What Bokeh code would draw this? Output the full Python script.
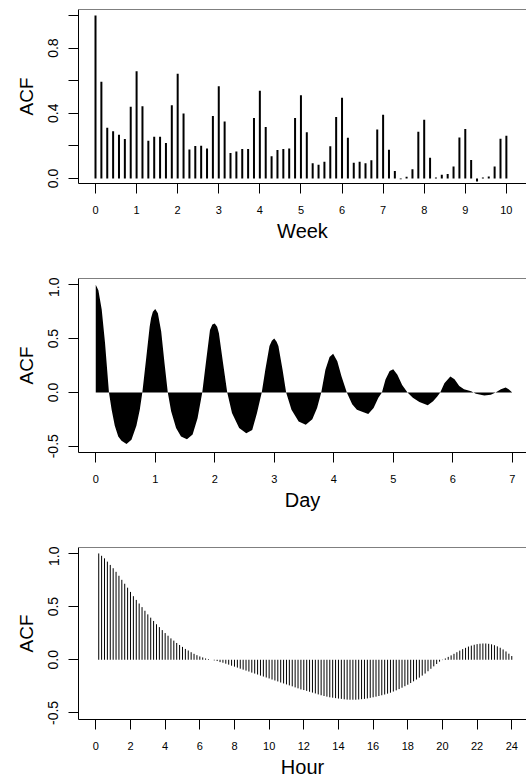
from bokeh.plotting import figure
from bokeh.layouts import column
from bokeh.models import Range1d, FixedTicker, Span
from bokeh.embed import file_html
from bokeh.resources import INLINE

FONT = "Liberation Sans"

# daily lags 0..70, shown in weeks
lag_days = list(range(71))
acf_week = [1.0, 0.594, 0.311, 0.289, 0.268, 0.242, 0.44,
            0.658, 0.443, 0.232, 0.256, 0.256, 0.217, 0.449,
            0.643, 0.398, 0.178, 0.199, 0.2, 0.184, 0.383,
            0.566, 0.35, 0.156, 0.166, 0.18, 0.18, 0.371,
            0.539, 0.316, 0.137, 0.174, 0.18, 0.184, 0.371,
            0.51, 0.283, 0.094, 0.084, 0.102, 0.197, 0.377,
            0.496, 0.25, 0.096, 0.102, 0.094, 0.111, 0.301,
            0.391, 0.176, 0.045, -0.005, 0.01, 0.057, 0.287,
            0.36, 0.127, 0.006, 0.022, 0.027, 0.074, 0.252,
            0.303, 0.113, -0.018, 0.006, 0.012, 0.074, 0.244,
            0.262]

# dense acf over a week (day, value)
day = [0.0, 0.044, 0.1, 0.156, 0.222, 0.267, 0.32, 0.378, 0.433, 0.517,
       0.6, 0.683, 0.74, 0.783, 0.85, 0.906, 0.93, 0.96, 1.0, 1.044,
       1.1, 1.156, 1.211, 1.267, 1.35, 1.433, 1.533, 1.628, 1.711, 1.79,
       1.85, 1.92, 1.96, 2.0, 2.04, 2.07, 2.14, 2.21, 2.29, 2.41,
       2.53, 2.63, 2.71, 2.79, 2.85, 2.92, 2.96, 3.0, 3.04, 3.07,
       3.14, 3.2, 3.29, 3.41, 3.53, 3.64, 3.72, 3.79, 3.86, 3.93,
       3.99, 4.06, 4.13, 4.22, 4.31, 4.39, 4.5, 4.58, 4.67, 4.75,
       4.81, 4.87, 4.94, 5.0, 5.07, 5.15, 5.24, 5.33, 5.44, 5.58,
       5.67, 5.74, 5.79, 5.86, 5.96, 6.03, 6.11, 6.19, 6.31, 6.39,
       6.53, 6.64, 6.72, 6.81, 6.89, 6.94, 7.0]
acf_day = [1.0, 0.95, 0.77, 0.46, 0.0, -0.16, -0.31, -0.41, -0.45, -0.48,
           -0.44, -0.31, -0.16, 0.0, 0.33, 0.61, 0.69, 0.75, 0.775, 0.735,
           0.565, 0.27, 0.0, -0.176, -0.33, -0.41, -0.435, -0.39, -0.24, 0.0,
           0.27, 0.58, 0.63, 0.64, 0.61, 0.55, 0.27, 0.0, -0.19, -0.33,
           -0.38, -0.35, -0.19, 0.0, 0.21, 0.43, 0.48, 0.5, 0.47, 0.43,
           0.21, 0.0, -0.16, -0.27, -0.3, -0.25, -0.145, 0.0, 0.21, 0.33,
           0.36, 0.29, 0.15, 0.0, -0.11, -0.16, -0.185, -0.2, -0.145, -0.05,
           0.0, 0.12, 0.2, 0.215, 0.165, 0.07, 0.0, -0.05, -0.09, -0.12,
           -0.083, -0.037, 0.0, 0.086, 0.148, 0.123, 0.06, 0.03, 0.01, -0.012,
           -0.028, -0.022, 0.0, 0.03, 0.046, 0.03, 0.0]

# 10-minute lags 1..144, shown in hours
lag_10min = list(range(1, 145))
acf_hour = [1.0, 0.978, 0.954, 0.923, 0.892, 0.861,
            0.827, 0.79, 0.752, 0.715, 0.678, 0.638,
            0.598, 0.563, 0.529, 0.495, 0.461, 0.427,
            0.396, 0.365, 0.334, 0.307, 0.279, 0.251,
            0.226, 0.201, 0.18, 0.158, 0.139, 0.121,
            0.102, 0.087, 0.071, 0.056, 0.043, 0.031,
            0.022, 0.012, 0.006, 0.0, -0.006, -0.012,
            -0.022, -0.028, -0.037, -0.046, -0.056, -0.065,
            -0.074, -0.084, -0.093, -0.102, -0.111, -0.121,
            -0.13, -0.139, -0.149, -0.158, -0.167, -0.176,
            -0.186, -0.195, -0.204, -0.214, -0.223, -0.232,
            -0.241, -0.25, -0.26, -0.269, -0.279, -0.285,
            -0.293, -0.301, -0.309, -0.317, -0.326, -0.334,
            -0.341, -0.347, -0.353, -0.357, -0.361, -0.365,
            -0.368, -0.372, -0.375, -0.376, -0.376, -0.376,
            -0.374, -0.371, -0.368, -0.364, -0.358, -0.353,
            -0.347, -0.341, -0.334, -0.327, -0.319, -0.31,
            -0.299, -0.288, -0.276, -0.263, -0.249, -0.235,
            -0.219, -0.203, -0.186, -0.168, -0.149, -0.13,
            -0.108, -0.085, -0.062, -0.04, -0.018, -0.003,
            0.012, 0.027, 0.041, 0.056, 0.071, 0.086,
            0.1, 0.112, 0.124, 0.133, 0.141, 0.147,
            0.151, 0.153, 0.153, 0.15, 0.145, 0.137,
            0.126, 0.113, 0.097, 0.078, 0.057, 0.035]

week_ticks = list(range(0, 11))
day_ticks = list(range(0, 8))
hour_ticks = list(range(0, 25, 2))
ticks_01 = [0.0, 0.2, 0.4, 0.6, 0.8, 1.0]
labels_01 = {0.0: "0.0", 0.2: "", 0.4: "0.4", 0.6: "", 0.8: "0.8", 1.0: ""}
ticks_half = [-0.5, 0.0, 0.5, 1.0]
labels_half = {-0.5: "-0.5", 0.0: "0.0", 0.5: "0.5", 1.0: "1.0"}


def panel(height, top, bottom, xr, yr, xticks, yticks, ylabels, xlabel):
    p = figure(width=526, height=height, x_range=Range1d(*xr), y_range=Range1d(*yr),
               output_backend="svg", toolbar_location=None,
               min_border_left=78, min_border_right=0, min_border_top=top,
               min_border_bottom=bottom)
    p.outline_line_color = None
    p.grid.visible = False

    xa = p.xaxis[0]
    xa.ticker = FixedTicker(ticks=xticks)
    xa.axis_label = xlabel
    ya = p.yaxis[0]
    ya.ticker = FixedTicker(ticks=yticks)
    ya.major_label_overrides = ylabels
    ya.major_label_orientation = "vertical"
    ya.axis_label = "ACF"
    for ax in (xa, ya):
        ax.axis_line_color = "black"
        ax.major_tick_line_color = "black"
        ax.minor_tick_line_color = None
        ax.major_tick_out = 10
        ax.major_tick_in = 0
        ax.major_label_text_color = "black"
        ax.major_label_text_font = FONT
        ax.axis_label_text_color = "black"
        ax.axis_label_text_font = FONT
        ax.axis_label_text_font_style = "normal"
    xa.major_label_text_font_size = "11px"
    xa.major_label_standoff = 12
    xa.axis_label_text_font_size = "20px"
    xa.axis_label_standoff = 3
    ya.major_label_text_font_size = "14px"
    ya.major_label_standoff = 10
    ya.axis_label_text_font_size = "19px"
    ya.axis_label_standoff = 9

    # top edge of the box (right edge runs off the picture)
    p.add_layout(Span(location=yr[1], dimension="width", line_color="black", line_width=1))
    return p


p1 = panel(277, 9, 94, (-0.414, 10.49), (-0.031, 1.037), week_ticks, ticks_01, labels_01, "Week")
weeks = [d / 7 for d in lag_days]
p1.segment(x0=weeks, y0=0, x1=weeks, y1=acf_week, line_width=2, line_color="black")

p2 = panel(269, 1, 94, (-0.29, 7.24), (-0.558, 1.058), day_ticks, ticks_half, labels_half, "Day")
p2.varea(x=day, y1=0, y2=acf_day, fill_color="black")

p3 = panel(234, 1, 59, (-1.0, 24.85), (-0.562, 1.056), hour_ticks, ticks_half, labels_half, "Hour")
hours = [k / 6 for k in lag_10min]
p3.segment(x0=hours, y0=0, x1=hours, y1=acf_hour, line_width=1, line_color="black")

p = column(p1, p2, p3)
open("out.html", "w").write(file_html(p, INLINE))
